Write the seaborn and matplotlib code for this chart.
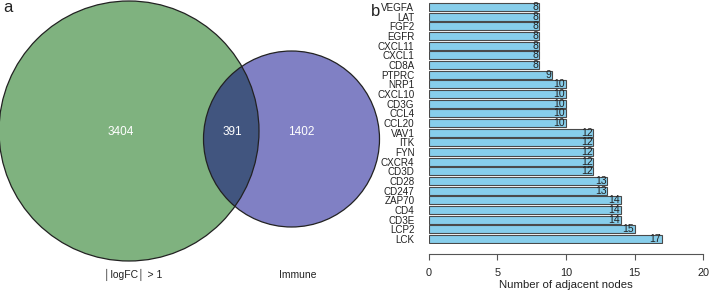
import matplotlib
matplotlib.use("Agg")
import matplotlib.pyplot as plt
import seaborn as sns
import pandas as pd
from matplotlib.patches import Circle

sns.set_theme(style="white")
plt.rcParams['font.family'] = ['Liberation Sans', 'DejaVu Sans']

# ---- data ----
set_names = ["|logFC| > 1", "Immune"]
only_left = 3404
overlap = 391
only_right = 1402

genes = ["VEGFA", "LAT", "FGF2", "EGFR", "CXCL11", "CXCL1", "CD8A", "PTPRC",
         "NRP1", "CXCL10", "CD3G", "CCL4", "CCL20", "VAV1", "ITK", "FYN",
         "CXCR4", "CD3D", "CD28", "CD247", "ZAP70", "CD4", "CD3E", "LCP2", "LCK"]
degrees = [8, 8, 8, 8, 8, 8, 8, 9, 10, 10, 10, 10, 10, 12, 12, 12,
           12, 12, 13, 13, 14, 14, 14, 15, 17]
xticks = [0, 5, 10, 15, 20]
xlabel = "Number of adjacent nodes"

W, H = 709, 293
fig = plt.figure(figsize=(W / 100, H / 100), dpi=100)

# ---- Venn panel (pixel coordinates) ----
axv = fig.add_axes([0, 0, 420 / W, 1])
axv.set_xlim(0, 420)
axv.set_ylim(H, 0)
axv.axis("off")

green = "#7fb27f"
purple = "#8080c4"
inter = "#41557f"
c1 = Circle((129, 131), 130, facecolor=green, edgecolor="none", zorder=1)
c2 = Circle((291.5, 139), 88, facecolor=purple, edgecolor="none", zorder=2)
axv.add_patch(c1)
axv.add_patch(c2)
c3 = Circle((291.5, 139), 88, facecolor=inter, edgecolor="none", zorder=3)
axv.add_patch(c3)
c3.set_clip_path(c1)
for c in [(129, 131, 130), (291.5, 139, 88)]:
    axv.add_patch(Circle((c[0], c[1]), c[2], facecolor="none",
                         edgecolor="#222222", lw=0.9, zorder=4))
axv.text(121, 132, str(only_left), color="white", fontsize=8.5, ha="center", va="center", zorder=5)
axv.text(232, 132, str(overlap), color="white", fontsize=8.5, ha="center", va="center", zorder=5)
axv.text(301, 132, str(only_right), color="white", fontsize=8.5, ha="center", va="center", zorder=5)
axv.text(133, 275, "\u2502logFC\u2502 > 1", color="#222222", fontsize=7.5, ha="center", va="center")
axv.text(298, 275, set_names[1], color="#222222", fontsize=7.5, ha="center", va="center")
axv.text(3, 8, "a", fontsize=12, ha="left", va="center", color="#222222")
axv.text(371, 11, "b", fontsize=12, ha="left", va="center", color="#222222")

# ---- bar panel ----
left_px, right_px = 429, 703
top_px, bot_px = 2, 244
axb = fig.add_axes([left_px / W, 1 - bot_px / H, (right_px - left_px) / W, (bot_px - top_px) / H])
df = pd.DataFrame({"gene": genes, "deg": degrees})
sns.barplot(data=df, x="deg", y="gene", orient="h", color="#87ceeb",
            edgecolor="#4a4a4a", linewidth=0.8, saturation=1, width=0.83, ax=axb)
axb.set_xlim(0, 20)
axb.set_ylim(len(genes) - 0.5, -0.5)
for i, v in enumerate(degrees):
    axb.text(v - 0.05, i, str(v), ha="right", va="center", fontsize=7.5, color="#222222")
for s in ["top", "right", "left"]:
    axb.spines[s].set_visible(False)
axb.spines["bottom"].set_position(("outward", 7))
axb.spines["bottom"].set_color("#555555")
axb.spines["bottom"].set_linewidth(0.8)
axb.set_xticks(xticks)
axb.tick_params(axis="x", bottom=True, length=4, width=0.8, color="#555555",
                labelsize=7.8, labelcolor="#222222", pad=6)
axb.tick_params(axis="y", left=False, labelsize=7.1, labelcolor="#222222", pad=4.5)
axb.set_ylabel("")
axb.set_xlabel(xlabel, fontsize=8.2, color="#222222", labelpad=2)
axb.grid(False)

fig.savefig("out.png", dpi=100)
